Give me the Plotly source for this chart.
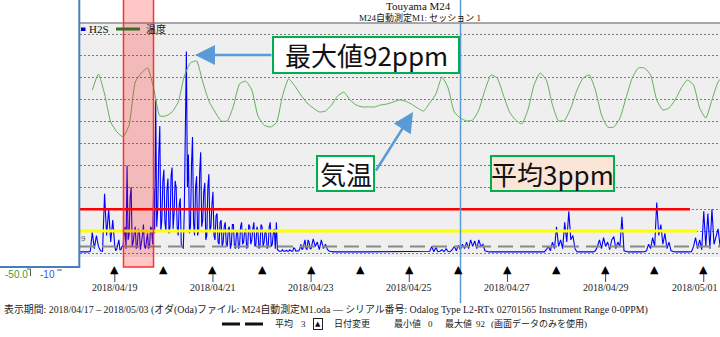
import pandas as pd
import plotly.graph_objects as go

# ---------------- data ----------------
# H2S readings (ppm), one list per calendar day starting 00:00;
# sampling interval of each day's list in h2s_step_min
h2s_0418 = [0.5, 0.5, 0.6, 0.5, 0.4, 0.5, 0.6, 0.5, 0.4, 0.6, 0.5, 0.5, 0.8, 9.5, 2, 8, 3, 1.0, 0.8, 27, 8, 20, 5, 15]
h2s_0419 = [3, 1, 2, 4, 6, 1.5, 1.5, 3, 3, 8, 12, 2, 40, 6, 8, 25, 30, 3, 5, 9, 12, 2, 3, 11,
            10, 1.5, 4, 8, 13, 3, 2, 6, 9, 2, 3, 12, 11, 4, 30, 9, 70, 12, 20, 45, 58, 10, 15, 33]
h2s_0420 = [38, 14, 10, 29, 34, 9, 12, 35, 39, 11, 18, 33, 30, 12, 8, 22, 25, 4, 3, 2, 20, 48, 92, 30,
            45, 9, 12, 40, 53, 14, 8, 30, 35, 8, 10, 37, 46, 12, 15, 28, 32, 6, 8, 30, 36, 10, 12, 22]
h2s_0421 = [28, 8, 6, 17, 18, 5, 4, 14, 15, 3, 5, 12, 14, 4, 3, 11, 12, 2, 4, 13, 13, 3, 2, 9,
            10, 2, 3, 12, 14, 4, 5, 10, 11, 2, 3, 13, 12, 4, 6, 11, 14, 3, 4, 12, 10, 2, 3, 13]
h2s_0422 = [12, 3, 5, 10, 9, 2, 3, 12, 14, 3, 4, 9, 11, 2, 14, 1.5, 1.0, 0.8, 0.8, 0.9, 1.5, 0.8, 0.8, 1.0,
            1.2, 0.8, 0.8, 1.5, 1.0, 0.8, 0.8, 2.5, 2, 0.9, 1, 0.8, 1, 2, 4, 1.5, 2, 5, 6, 2, 1.5, 6, 5, 2]
h2s_0423 = [2, 6.5, 3, 5, 1.5, 6, 2, 4, 1.5, 0.8, 0.6, 0.5, 0.6, 0.5, 0.5, 0.6, 0.5, 0.5, 0.6, 0.5, 0.5, 0.5, 0.6, 0.5]
h2s_0424 = [0.5, 0.6, 0.5, 0.5, 0.6, 0.5, 0.5, 0.5, 0.6, 0.5, 0.5, 0.6, 0.5, 0.5, 0.5, 0.6, 0.5, 0.5, 0.6, 0.5, 0.5, 0.5, 0.6, 0.5]
h2s_0425 = [0.5, 0.6, 0.5, 0.5, 0.5, 0.6, 0.5, 0.5, 0.6, 0.5, 0.8, 3, 0.6, 2.5, 0.6, 0.8, 1.5, 0.6, 2, 0.7, 0.6, 1.5, 3, 1]
h2s_0426 = [3.5, 1.5, 4, 2, 5, 2, 6, 3, 5.5, 2, 6, 3, 4, 1, 0.6, 0.5, 0.5, 0.6, 0.5, 0.5, 0.5, 0.6, 0.5, 0.5]
h2s_0427 = [0.5, 0.6, 0.5, 0.5, 0.5, 0.6, 0.5, 0.5, 0.6, 0.5, 0.5, 0.5, 0.6, 0.5, 0.5, 0.6, 0.5, 0.5, 0.5, 1.5, 3, 1, 5, 2]
h2s_0428 = [12, 3, 6, 2, 14, 5, 19, 6, 8, 2, 0.6, 0.5, 0.5, 0.6, 0.5, 0.5, 0.6, 0.5, 0.5, 1, 3, 6, 2, 7]
h2s_0429 = [3, 5, 1.5, 6, 7.5, 2, 5, 3, 16.5, 1, 0.6, 0.5, 0.5, 0.6, 0.5, 0.5, 0.6, 0.5, 0.5, 0.6, 1, 4, 2, 7]
h2s_0430 = [3, 23, 8, 13, 4, 9, 2, 5, 1, 0.6, 0.5, 0.5, 0.6, 0.5, 0.5, 0.6, 0.5, 0.5, 0.6, 3, 7, 2, 6, 1.5]
h2s_0501 = [19, 3, 18, 2, 20, 4, 7, 11, 3, 6]

h2s_days = ["2018-04-18", "2018-04-19", "2018-04-20", "2018-04-21", "2018-04-22",
            "2018-04-23", "2018-04-24", "2018-04-25", "2018-04-26", "2018-04-27",
            "2018-04-28", "2018-04-29", "2018-04-30", "2018-05-01"]
h2s_step_min = [60, 30, 30, 30, 30, 60, 60, 60, 60, 60, 60, 60, 60, 60]
h2s_by_day = [h2s_0418, h2s_0419, h2s_0420, h2s_0421, h2s_0422, h2s_0423, h2s_0424,
              h2s_0425, h2s_0426, h2s_0427, h2s_0428, h2s_0429, h2s_0430, h2s_0501]

# temperature (deg C), 3-hourly from 2018-04-18 13:00
temp_start = "2018-04-18 13:00"
temp_c = [34.4, 41.7, 32.6, 19.8, 15.3, 13.0, 18.4, 38.1, 42.2, 44.5, 35.3, 22.6, 22.6,
          24.4, 28.9, 40.8, 46.8, 47.7, 38.1, 29.4, 24.4, 20.3, 20.3, 27.1, 37.2, 38.5,
          34.4, 22.6, 18.4, 17.5, 19.4, 31.7, 39.5, 36.3, 32.1, 28.5, 26.2, 24.4, 24.8,
          27.6, 31.7, 33.5, 29.9, 27.6, 26.7, 26.7, 26.7, 27.6, 28.0, 28.9, 29.9, 29.4,
          28.0, 26.2, 24.8, 28.5, 32.6, 40.4, 35.3, 24.4, 21.6, 20.3, 20.7, 25.3, 34.4,
          41.3, 39.9, 32.1, 24.4, 20.7, 18.9, 25.3, 36.7, 42.2, 39.0, 27.6, 20.3, 20.7,
          26.2, 34.4, 39.9, 41.3, 34.4, 23.0, 17.5, 17.5, 21.6, 30.8, 39.9, 44.5, 44.5,
          41.3, 29.9, 25.3, 26.2, 29.9, 35.3, 39.0, 36.7, 26.2, 21.6, 29.9, 38.1, 41.3]

h2s_mean = 3
h2s_min = 0
alarm_high = 20
alarm_low = 10
alarm_high_end = "2018-04-30 17:15"
alarm_low_end = "2018-04-30 20:40"
cursor_time = "2018-04-26 01:03"
marked_start = "2018-04-19 04:15"
marked_end = "2018-04-19 18:56"

label_dates = ["2018-04-19", "2018-04-21", "2018-04-23", "2018-04-25",
               "2018-04-27", "2018-04-29", "2018-05-01"]
day_marks = pd.date_range("2018-04-19", "2018-05-01", freq="D")

# ---------------- geometry ----------------
W, H = 720, 337
ML, MR, MT, MB = 80, 0, 23, 80
PW, PH = W - ML - MR, H - MT - MB


def fx(px):
    return (px - ML) / PW


def fy(py):
    return (H - MB - py) / PH


PX_PER_PPM = 2.19
Y_ZERO_PX = 253
y_lo = -((H - MB) - Y_ZERO_PX) / PX_PER_PPM
y_hi = (Y_ZERO_PX - MT) / PX_PER_PPM
TEMP_OFFSET = 40  # temperature axis: -50 C aligned with -10 ppm

DAY_PX = 49.08
ORIGIN_PX = 114.8
origin = pd.Timestamp("2018-04-19")
x_start = origin + pd.Timedelta(days=(ML - ORIGIN_PX) / DAY_PX)
x_end = origin + pd.Timedelta(days=(W - MR - ORIGIN_PX) / DAY_PX)


def date_fx(d):
    """paper x of a timestamp on the time axis"""
    days = (pd.Timestamp(d) - origin) / pd.Timedelta(days=1)
    return fx(ORIGIN_PX + DAY_PX * days)


# ---------------- series ----------------
h2s_t, h2s_v = [], []
for day, step, vals in zip(h2s_days, h2s_step_min, h2s_by_day):
    h2s_t.extend(pd.date_range(day, periods=len(vals), freq=f"{step}min"))
    h2s_v.extend(vals)
h2s_max = max(h2s_v)

temp_t = pd.date_range(temp_start, periods=len(temp_c), freq="3h")

fig = go.Figure()
fig.add_trace(go.Scatter(x=h2s_t, y=h2s_v, mode="lines",
                         line=dict(color="#0000ff", width=1.1), name="H2S"))
fig.add_trace(go.Scatter(x=temp_t, y=temp_c, mode="lines", yaxis="y2",
                         line=dict(color="#62b05a", width=1, shape="spline", smoothing=0.5),
                         name="温度"))
fig.add_trace(go.Scatter(x=[x_start, x_end], y=[h2s_mean, h2s_mean], mode="lines",
                         line=dict(color="#8a8a8a", width=2, dash="15px,7px")))
fig.add_trace(go.Scatter(x=[x_start, alarm_low_end], y=[alarm_low, alarm_low], mode="lines",
                         line=dict(color="#ffff00", width=3)))
fig.add_trace(go.Scatter(x=[x_start, alarm_high_end], y=[alarm_high, alarm_high], mode="lines",
                         line=dict(color="#ff0000", width=2.5)))

shapes = []
ann = []

# top border of plot
shapes.append(dict(type="line", xref="paper", yref="paper", x0=0, x1=1, y0=fy(23), y1=fy(23),
                   line=dict(color="#8c8c8c", width=1.5)))

# day-change markers below the plot
for d in day_marks:
    ann.append(dict(x=date_fx(d), xref="paper", y=fy(269.5), yref="paper", text="▲",
                    showarrow=False, xanchor="center", yanchor="middle",
                    font=dict(family="DejaVu Sans", size=11, color="#000000")))

# tick lines under the dated markers + date labels
date_font = dict(family="Liberation Serif, Noto Sans CJK JP", size=10, color="#222222")
for d in label_dates:
    px = date_fx(d)
    shapes.append(dict(type="line", xref="paper", yref="paper", x0=px, x1=px, y0=fy(274), y1=fy(282),
                       line=dict(color="#444444", width=1)))
    at_edge = px + fx(ML + 23) > 1
    ann.append(dict(x=1 if at_edge else px, xref="paper", y=fy(287), yref="paper",
                    text=d.replace("-", "/"), showarrow=False,
                    xanchor="right" if at_edge else "center", yanchor="middle", font=date_font))

# highlighted period
shapes.append(dict(type="rect", xref="x", yref="paper", x0=marked_start, x1=marked_end,
                   y0=fy(267), y1=fy(-5), fillcolor="rgba(255,0,0,0.22)",
                   line=dict(color="#ff3030", width=1.5), layer="above"))

# cursor line
shapes.append(dict(type="line", xref="x", yref="paper", x0=cursor_time, x1=cursor_time,
                   y0=fy(303), y1=fy(-5), line=dict(color="#5b9bd5", width=1.5), layer="above"))

# left panel
shapes.append(dict(type="rect", xref="paper", yref="paper", x0=fx(-20), x1=fx(79.3),
                   y0=fy(267), y1=fy(-20), fillcolor="#ffffff",
                   line=dict(color="#4a7ebb", width=2), layer="above"))

# callout boxes
shapes.append(dict(type="rect", xref="paper", yref="paper", x0=fx(273), x1=fx(459),
                   y0=fy(73), y1=fy(37), fillcolor="#ffffff",
                   line=dict(color="#00b050", width=2), layer="above"))
shapes.append(dict(type="rect", xref="paper", yref="paper", x0=fx(317), x1=fx(374),
                   y0=fy(191), y1=fy(156), fillcolor="#ffffff",
                   line=dict(color="#00b050", width=2), layer="above"))
shapes.append(dict(type="rect", xref="paper", yref="paper", x0=fx(491), x1=fx(614),
                   y0=fy(191), y1=fy(156), fillcolor="#fbe5d6",
                   line=dict(color="#00b050", width=2), layer="above"))

big = dict(family="Noto Sans CJK JP", size=26, color="#111111")
ann.append(dict(x=fx(366), y=fy(55), xref="paper", yref="paper", text=f"最大値{h2s_max:g}ppm",
                showarrow=False, font=big, xanchor="center", yanchor="middle"))
ann.append(dict(x=fx(345.5), y=fy(173.5), xref="paper", yref="paper", text="気温",
                showarrow=False, font=big, xanchor="center", yanchor="middle"))
ann.append(dict(x=fx(552.5), y=fy(173.5), xref="paper", yref="paper", text=f"平均{h2s_mean}ppm",
                showarrow=False, font=big, xanchor="center", yanchor="middle"))

# arrows
ann.append(dict(x=fx(195), y=fy(55), xref="paper", yref="paper", text="", showarrow=True,
                ax=78, ay=0, arrowcolor="#5b9bd5", arrowwidth=2.5, arrowhead=2, arrowsize=1.6,
                standoff=0))
ann.append(dict(x=fx(413), y=fy(112), xref="paper", yref="paper", text="", showarrow=True,
                ax=-38, ay=60, arrowcolor="#5b9bd5", arrowwidth=2.5, arrowhead=2, arrowsize=1.6,
                standoff=0))

# legend
shapes.append(dict(type="rect", xref="paper", yref="paper", x0=fx(81), x1=fx(85.5),
                   y0=fy(31), y1=fy(27.5), fillcolor="#0000cc", line=dict(width=0)))
shapes.append(dict(type="line", xref="paper", yref="paper", x0=fx(116), x1=fx(140),
                   y0=fy(29), y1=fy(29), line=dict(color="#3b6b24", width=3)))
serif = "Liberation Serif, Noto Sans CJK JP"
ann.append(dict(x=fx(87), y=fy(29), xref="paper", yref="paper", text="H2S", showarrow=False,
                xanchor="left", yanchor="middle", font=dict(family=serif, size=11, color="#111111")))
ann.append(dict(x=fx(144), y=fy(29), xref="paper", yref="paper", text="温度", showarrow=False,
                xanchor="left", yanchor="middle", font=dict(family=serif, size=10, color="#111111")))

# titles
ann.append(dict(x=fx(418.5), y=fy(6.2), xref="paper", yref="paper", text="Touyama M24",
                showarrow=False, xanchor="center", yanchor="middle",
                font=dict(family=serif, size=11, color="#111111")))
ann.append(dict(x=fx(420), y=fy(17.3), xref="paper", yref="paper", text="M24自動測定M1: セッション 1",
                showarrow=False, xanchor="center", yanchor="middle",
                font=dict(family=serif, size=9, color="#111111")))

# axis minimum labels at the lower left
ann.append(dict(x=fx(3), y=fy(274), xref="paper", yref="paper", text="-50.0", showarrow=False,
                xanchor="left", yanchor="middle",
                font=dict(family="Liberation Sans", size=10, color="#3a9a3a")))
ann.append(dict(x=fx(38), y=fy(274), xref="paper", yref="paper", text="-10", showarrow=False,
                xanchor="left", yanchor="middle",
                font=dict(family="Liberation Sans", size=10, color="#3355dd")))
shapes.append(dict(type="line", xref="paper", yref="paper", x0=fx(27), x1=fx(30.5),
                   y0=fy(269), y1=fy(269), line=dict(color="#555555", width=1)))
shapes.append(dict(type="line", xref="paper", yref="paper", x0=fx(30.5), x1=fx(30.5),
                   y0=fy(269), y1=fy(276), line=dict(color="#555555", width=1)))
shapes.append(dict(type="line", xref="paper", yref="paper", x0=fx(57), x1=fx(62),
                   y0=fy(270), y1=fy(270), line=dict(color="#555555", width=1)))
ann.append(dict(x=fx(83), y=fy(238), xref="paper", yref="paper", text="9", showarrow=False,
                xanchor="center", yanchor="middle",
                font=dict(family="Liberation Sans", size=8, color="#555555")))

# footer
small = dict(family=serif, size=9, color="#222222")
ann.append(dict(x=fx(2), y=fy(309), xref="paper", yref="paper", showarrow=False,
                xanchor="left", yanchor="middle", font=dict(family=serif, size=9.9, color="#222222"),
                text="表示期間: 2018/04/17 – 2018/05/03 (オダ(Oda)ファイル: M24自動測定M1.oda — "
                     "シリアル番号: Odalog Type L2-RTx 02701565 Instrument Range 0-0PPM)"))
shapes.append(dict(type="line", xref="paper", yref="paper", x0=fx(222), x1=fx(263),
                   y0=fy(324), y1=fy(324), line=dict(color="#111111", width=3, dash="18px,5px")))
footer2 = [(273, "平均"), (299, f"{h2s_mean}"), (332, "日付変更"), (392, "最小値"),
           (426, f"{h2s_min}"), (443, "最大値"), (474, f"{h2s_max:g}"),
           (489, "(画面データのみを使用)")]
for px, txt in footer2:
    ann.append(dict(x=fx(px), y=fy(324), xref="paper", yref="paper", text=txt, showarrow=False,
                    xanchor="left", yanchor="middle", font=small))
ann.append(dict(x=fx(317.5), y=fy(324), xref="paper", yref="paper", text="▲", showarrow=False,
                xanchor="center", yanchor="middle", bordercolor="#222222", borderwidth=1,
                borderpad=1, font=dict(family="DejaVu Sans", size=7, color="#111111")))

fig.update_layout(
    width=W, height=H,
    margin=dict(l=ML, r=MR, t=MT, b=MB, pad=0),
    paper_bgcolor="#ffffff", plot_bgcolor="#efefef",
    showlegend=False,
    xaxis=dict(type="date", range=[x_start, x_end], showgrid=False, showticklabels=False,
               zeroline=False, showline=False, ticks=""),
    yaxis=dict(range=[y_lo, y_hi], tickvals=list(range(0, 101, 10)), showgrid=True,
               gridcolor="#7a7a7a", griddash="2px,2px", gridwidth=1, showticklabels=False,
               zeroline=False, ticks="", showline=False),
    yaxis2=dict(overlaying="y", range=[y_lo - TEMP_OFFSET, y_hi - TEMP_OFFSET], visible=False),
    shapes=shapes, annotations=ann,
)

fig.write_html("out.html")
